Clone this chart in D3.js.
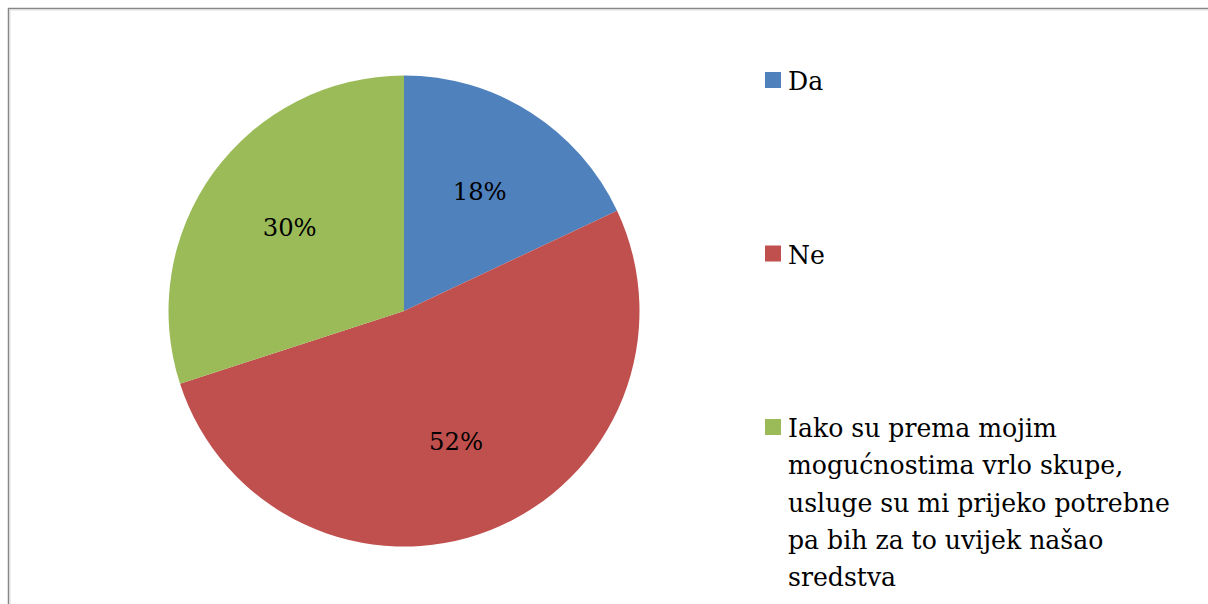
<!DOCTYPE html>
<html>
<head>
<meta charset="utf-8">
<script src="https://cdn.jsdelivr.net/npm/d3@7"></script>
<style>
  html, body { margin: 0; padding: 0; background: #fff; }
  svg { display: block; }
  text { font-family: "DejaVu Serif", serif; fill: #000; }
</style>
</head>
<body>
<div id="chart"></div>
<script>
// ----------------------------------------------
// Data
// ----------------------------------------------
const categories = ['Da', 'Ne', 'Iako su prema mojim mogućnostima vrlo skupe, usluge su mi prijeko potrebne pa bih za to uvijek našao sredstva'];
const values = [18, 52, 30];
const percentLabels = ['18%', '52%', '30%'];
const legendLines = [
  ['Da'],
  ['Ne'],
  ['Iako su prema mojim', 'mogućnostima vrlo skupe,', 'usluge su mi prijeko potrebne', 'pa bih za to uvijek našao', 'sredstva']
];
const sliceColors = ['#4F81BD', '#C0504D', '#9BBB59'];

// ----------------------------------------------
// Layout
// ----------------------------------------------
const width = 1208;
const height = 604;
const cx = 404, cy = 311, radius = 235.5;

// the serif face is wider than Times; fit sizes to the widths seen in the chart
function fitFontSize(svg, str, base, targetWidth) {
  const t = svg.append('text').attr('font-size', base).text(str);
  const w = t.node().getComputedTextLength();
  t.remove();
  return Math.min(base, base * targetWidth / w);
}

const svg = d3.select('#chart').append('svg')
  .attr('width', width)
  .attr('height', height);

// chart frame (runs off the right and bottom edges)
svg.append('rect')
  .attr('x', 8.5).attr('y', 8.5)
  .attr('width', width + 20).attr('height', height + 20)
  .attr('fill', 'none')
  .attr('stroke', '#868686')
  .attr('stroke-width', 1.5);
svg.append('rect')
  .attr('x', 10).attr('y', 10)
  .attr('width', width + 20).attr('height', height + 20)
  .attr('fill', 'none')
  .attr('stroke', '#dcdcdc')
  .attr('stroke-width', 1);

const labelSize = fitFontSize(svg, '18%', 29, 54);
const legendSize = fitFontSize(svg, 'usluge su mi prijeko potrebne', 31, 382);

// ----------------------------------------------
// Pie
// ----------------------------------------------
const data = categories.map((c, i) => ({ name: c, value: values[i], label: percentLabels[i], color: sliceColors[i] }));

const pie = d3.pie().value(d => d.value).sort(null);
const arc = d3.arc().innerRadius(0).outerRadius(radius);
const labelArc = d3.arc().innerRadius(radius * 0.6).outerRadius(radius * 0.6);

const g = svg.append('g').attr('transform', `translate(${cx},${cy})`);
const arcs = pie(data);

g.selectAll('path')
  .data(arcs)
  .join('path')
  .attr('d', arc)
  .attr('fill', d => d.data.color);

g.selectAll('text')
  .data(arcs)
  .join('text')
  .attr('transform', d => `translate(${labelArc.centroid(d)})`)
  .attr('text-anchor', 'middle')
  .attr('dy', '0.33em')
  .attr('font-size', labelSize)
  .text(d => d.data.label);

// ----------------------------------------------
// Legend
// ----------------------------------------------
const legendX = 765, legendTop = 72, legendStep = 173.5, lineHeight = 37.3;

const legend = svg.append('g');
const item = legend.selectAll('g')
  .data(data)
  .join('g')
  .attr('transform', (d, i) => `translate(${legendX},${legendTop + i * legendStep})`);

item.append('rect')
  .attr('width', 16).attr('height', 16)
  .attr('fill', d => d.color);

item.each(function (d, i) {
  const t = d3.select(this).append('text')
    .attr('font-size', legendSize);
  legendLines[i].forEach((line, j) => {
    t.append('tspan')
      .attr('x', 23)
      .attr('y', 18 + j * lineHeight)
      .text(line);
  });
});
</script>
</body>
</html>
